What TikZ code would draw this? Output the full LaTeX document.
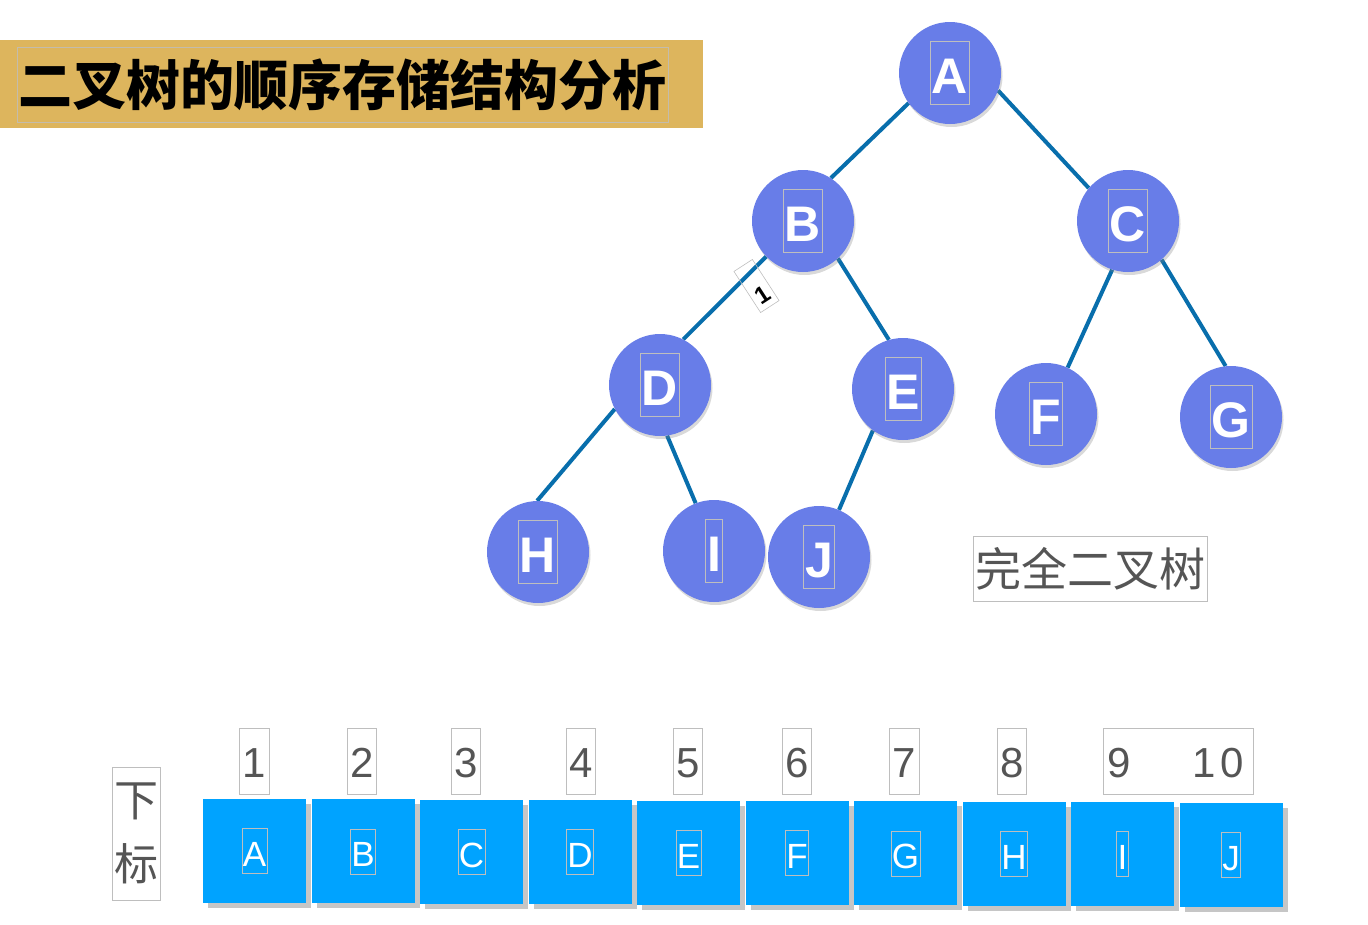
\documentclass[tikz,border=0pt]{standalone}
\usepackage{fontspec}
\setmainfont{Liberation Sans}
\newfontfamily\cjk{Noto Sans CJK SC}
\usetikzlibrary{shadows,backgrounds}
\definecolor{gold}{RGB}{221,181,93}
\definecolor{nodefill}{RGB}{104,125,232}
\definecolor{edgec}{RGB}{8,110,172}
\definecolor{cellc}{RGB}{0,163,255}
\definecolor{txtgray}{RGB}{85,85,85}
\definecolor{framec}{RGB}{190,190,190}
\tikzset{
  circ/.style={circle, fill=nodefill, minimum size=102pt, inner sep=0pt,
    drop shadow={shadow xshift=1.5pt, shadow yshift=-3pt, opacity=0.3}},
  lbl/.style={draw=framec, line width=0.6pt, inner xsep=1.5pt, inner ysep=0pt,
    text=white, font=\bfseries\fontsize{50}{50}\selectfont, text height=52pt, text depth=11pt},
  edge/.style={draw=edgec, line width=4pt},
  cell/.style={fill=cellc, minimum width=103pt, minimum height=104pt, inner sep=0pt,
    drop shadow={shadow xshift=5pt, shadow yshift=-5pt, opacity=0.45}},
  clbl/.style={draw=framec, line width=0.6pt, inner xsep=1pt, inner ysep=0pt,
    text=white, font=\fontsize{35}{35}\selectfont, text height=38pt, text depth=7pt},
  idx/.style={draw=framec, line width=0.8pt, inner xsep=3pt, inner ysep=0pt,
    text=txtgray, font=\fontsize{42}{42}\selectfont, text height=49pt, text depth=17pt},
}
\begin{document}
\begin{tikzpicture}[x=1pt,y=-1pt]
\useasboundingbox (0,0) rectangle (1368,924);
% title
\fill[gold] (0,40) rectangle (703,128);
\node[draw=framec!80!gold, line width=0.6pt, minimum width=651pt, minimum height=75pt,
  inner sep=0pt, font=\cjk\bfseries\fontsize{54}{54}\selectfont] (title) at (342.5,84.5)
  {二叉树的顺序存储结构分析};
% tree nodes
\node[circ] (A) at (950,73) {};
\node[circ] (B) at (803,221) {};
\node[circ] (C) at (1128,221) {};
\node[circ] (D) at (660,385) {};
\node[circ] (E) at (903,389) {};
\node[circ] (F) at (1046,414) {};
\node[circ] (G) at (1231,417) {};
\node[circ] (H) at (538,552) {};
\node[circ] (I) at (714,551) {};
\node[circ] (J) at (819,557) {};
\foreach \n in {A,B,C,D,E,F,G,H,I,J}{\node[lbl] (l\n) at (\n) {\n};}
\begin{scope}[on background layer]
\draw[edge] (A.216) -- (B.57);
\draw[edge] (A.-20) -- (C.140);
\draw[edge] (B.224) -- (D.63);
\draw[edge] (B.-47) -- (E.106);
\draw[edge] (C.252) -- (F.65);
\draw[edge] (C.311) -- (G.96);
\draw[edge] (D.208) -- (H.91);
\draw[edge] (D.278) -- (I.111);
\draw[edge] (E.234) -- (J.67);
\end{scope}
% small rotated label
\node[draw=framec, line width=0.6pt, rotate=33, minimum width=22pt, minimum height=49pt,
  inner sep=0pt, text height=44pt, text depth=5pt, font=\bfseries\fontsize{24}{24}\selectfont] (one) at (756.5,286) {1};
% caption
\node[draw=framec, line width=0.8pt, inner xsep=2pt, minimum height=65pt, text=txtgray,
  font=\cjk\fontsize{46}{46}\selectfont] (cap) at (1090,568.5) {完全二叉树};
% 下标
\node[draw=framec, line width=0.8pt, minimum width=48pt, minimum height=133pt, inner sep=0pt,
  text=txtgray, align=center, font=\cjk\fontsize{44}{64}\selectfont] (xb) at (136,833.5) {下\\标};
% array cells
\foreach \n [count=\i from 0] in {A,B,C,D,E,F,G,H,I,J}{
  \node[cell] (c\n) at (254.5+108.5*\i, 851+0.4*\i) {};
  \node[clbl] at (c\n) {\n};
}
% index labels
\node[idx] (i1) at (254.5,761.5) {1};
\node[idx] (i2) at (362,761.5) {2};
\node[idx] (i3) at (466,761.5) {3};
\node[idx] (i4) at (581,761.5) {4};
\node[idx] (i5) at (688,761.5) {5};
\node[idx] (i6) at (797,761.5) {6};
\node[idx] (i7) at (904.5,761.5) {7};
\node[idx] (i8) at (1012,761.5) {8};
\node[idx, minimum width=150pt, text width=142pt, align=left] (i9) at (1178,761.5) {9\hspace{62pt}1\hspace{5pt}0};
\end{tikzpicture}
\end{document}
